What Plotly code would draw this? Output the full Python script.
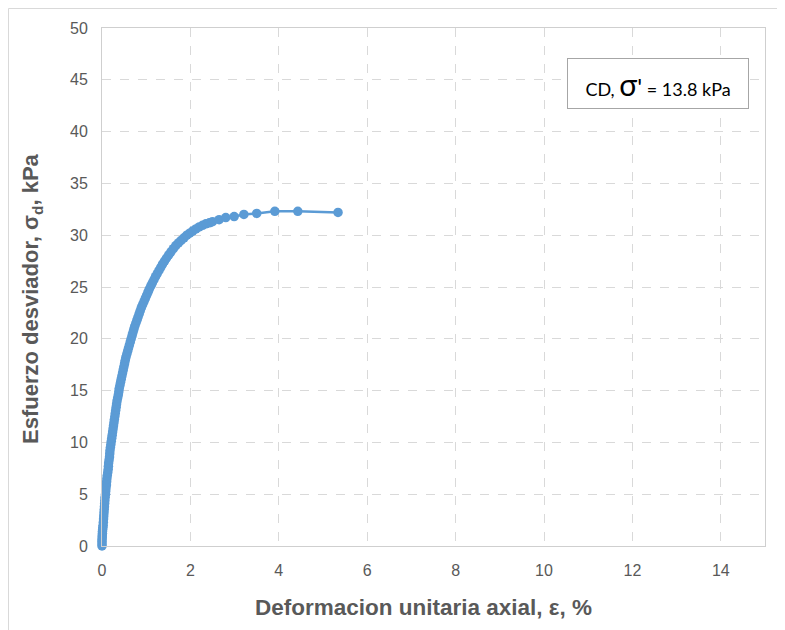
import plotly.graph_objects as go

strain = [0.0, 0.0, 0.0, 0.0, 0.005, 0.005, 0.01, 0.01, 0.015, 0.02, 0.025, 0.03, 0.035, 0.04,
          0.045, 0.05, 0.055, 0.06, 0.065, 0.07, 0.08, 0.085, 0.09, 0.10, 0.105, 0.11, 0.12, 0.13,
          0.14, 0.145, 0.15, 0.16, 0.17, 0.175, 0.18, 0.19, 0.20, 0.21, 0.22, 0.23, 0.24, 0.25,
          0.26, 0.27, 0.28, 0.29, 0.30, 0.31, 0.32, 0.33, 0.34, 0.355, 0.37, 0.38, 0.39, 0.405,
          0.42, 0.435, 0.45, 0.465, 0.48, 0.495, 0.51, 0.525, 0.54, 0.56, 0.58, 0.60, 0.62, 0.64,
          0.66, 0.68, 0.70, 0.72, 0.74, 0.765, 0.79, 0.815, 0.84, 0.865, 0.89, 0.92, 0.95, 0.98,
          1.01, 1.04, 1.07, 1.105, 1.14, 1.175, 1.21, 1.25, 1.29, 1.33, 1.37, 1.415, 1.46, 1.51,
          1.56, 1.615, 1.67, 1.73, 1.79, 1.855, 1.92, 1.985, 2.05, 2.125, 2.20, 2.275, 2.35, 2.43,
          2.50, 2.65, 2.80, 2.99, 3.21, 3.50, 3.91, 4.43, 5.34]
stress = [0.0, 0.2, 0.4, 0.6, 0.8, 1.0, 1.2, 1.4, 1.6, 1.8, 2.0, 2.3, 2.6, 2.9,
          3.2, 3.5, 3.8, 4.1, 4.4, 4.7, 5.0, 5.3, 5.6, 5.9, 6.2, 6.5, 6.8, 7.1,
          7.4, 7.7, 8.0, 8.3, 8.6, 8.9, 9.2, 9.5, 9.8, 10.1, 10.4, 10.7, 11.0, 11.3,
          11.6, 11.9, 12.2, 12.5, 12.8, 13.1, 13.4, 13.7, 14.0, 14.3, 14.6, 14.9, 15.2, 15.5,
          15.8, 16.1, 16.4, 16.7, 17.0, 17.3, 17.6, 17.9, 18.2, 18.5, 18.8, 19.1, 19.4, 19.7,
          20.0, 20.3, 20.6, 20.9, 21.2, 21.5, 21.8, 22.1, 22.4, 22.7, 23.0, 23.3, 23.6, 23.9,
          24.2, 24.5, 24.8, 25.1, 25.4, 25.7, 26.0, 26.3, 26.6, 26.9, 27.2, 27.5, 27.8, 28.1,
          28.4, 28.7, 29.0, 29.25, 29.5, 29.75, 30.0, 30.2, 30.4, 30.6, 30.8, 30.95, 31.1, 31.2,
          31.3, 31.5, 31.7, 31.8, 32.0, 32.1, 32.3, 32.3, 32.2]

x_ticks = [0, 2, 4, 6, 8, 10, 12, 14]
y_ticks = [0, 5, 10, 15, 20, 25, 30, 35, 40, 45, 50]

blue = "#5B9BD5"
grid = "#D9D9D9"
txt = "#595959"

fig = go.Figure()
fig.add_trace(go.Scatter(
    x=strain, y=stress, mode="lines+markers",
    line=dict(color=blue, width=2.5),
    marker=dict(color=blue, size=9.5),
    cliponaxis=False,
    showlegend=False, hoverinfo="x+y"))

# page body has an 8px margin; pixel targets below are in screenshot coordinates
OFF = 8
W, H = 785, 630
L, T = 102 - OFF, 28 - OFF
R = W - (765 - OFF)
B = H - (546 - OFF)
pw, ph = W - L - R, H - T - B

def px(x):
    return (x - OFF - L) / pw

def py(y):
    return (H - B - (y - OFF)) / ph

fig.update_layout(
    width=W, height=H,
    margin=dict(l=L, r=R, t=T, b=B),
    paper_bgcolor="white", plot_bgcolor="white",
    font=dict(family="Liberation Sans, Arial", color=txt),
    xaxis=dict(range=[0, 15], tickvals=x_ticks, ticktext=[str(v) for v in x_ticks],
               showgrid=True, gridcolor=grid, griddash="dash", gridwidth=1,
               zeroline=False, showline=True, linecolor="#CFCFCF", linewidth=1, mirror=True,
               ticks="", tickfont=dict(size=16, color=txt), ticklabelstandoff=10),
    yaxis=dict(range=[0, 50], tickvals=y_ticks, ticktext=[str(v) for v in y_ticks],
               showgrid=True, gridcolor=grid, griddash="dash", gridwidth=1,
               zeroline=False, showline=True, linecolor="#CFCFCF", linewidth=1, mirror=True,
               ticks="", tickfont=dict(size=16, color=txt), ticklabelstandoff=10),
    shapes=[dict(type="rect", xref="paper", yref="paper",
                 x0=px(8.5), y0=py(660), x1=px(820), y1=py(8.5),
                 line=dict(color="#D9D9D9", width=1), fillcolor="rgba(0,0,0,0)", layer="below")],
    annotations=[
        dict(xref="paper", yref="paper", x=px(423), y=py(607), xanchor="center", yanchor="middle",
             text="<b>Deformacion unitaria axial, ε, %</b>", showarrow=False,
             font=dict(size=22.5, color=txt)),
        dict(xref="paper", yref="paper", x=px(32), y=py(299), xanchor="center", yanchor="middle",
             text="<b>Esfuerzo desviador, σ<sub>d</sub>, kPa</b>", showarrow=False, textangle=-90,
             font=dict(size=22, color=txt)),
        dict(xref="paper", yref="paper", x=px(658), y=py(83), xanchor="center", yanchor="middle",
             text="CD, <span style='font-size:30px'>σ</span><span style='font-size:24px'>'</span> = 13.8 kPa",
             showarrow=False, bgcolor="white", bordercolor="#A6A6A6", borderwidth=1,
             width=180, height=49, borderpad=0,
             font=dict(size=18, color="#000000", family="Lato, Open Sans")),
    ],
)

fig.write_html("out.html")
